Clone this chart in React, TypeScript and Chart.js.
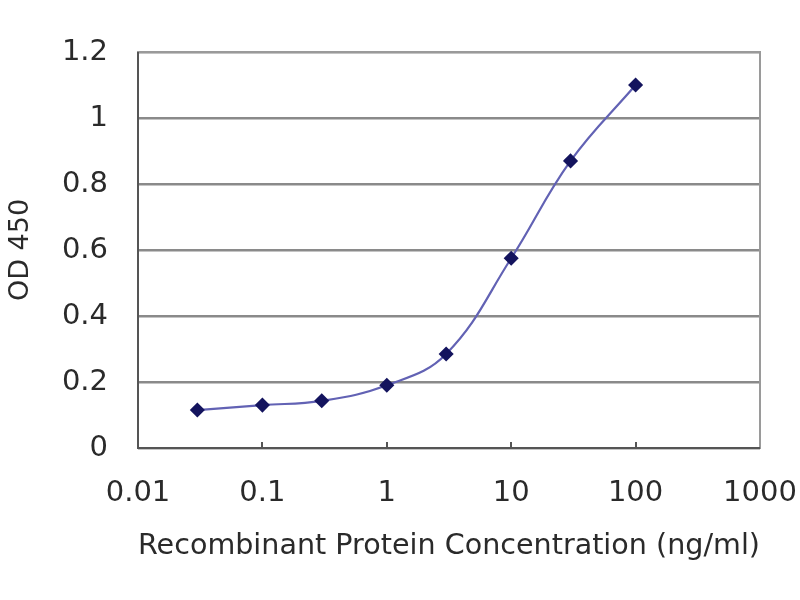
import { useEffect, useRef } from "react"
import { Chart, registerables, type ChartConfiguration } from "chart.js"

Chart.register(...registerables)

// concentration (ng/ml) and measured OD 450
const concentrations = [0.03, 0.1, 0.3, 1, 3, 10, 30, 100]
const odValues = [0.115, 0.13, 0.143, 0.19, 0.285, 0.575, 0.87, 1.1]
const xTickValues = [0.01, 0.1, 1, 10, 100, 1000]
const yTickValues = [0, 0.2, 0.4, 0.6, 0.8, 1, 1.2]

const FONT = "'DejaVu Sans', 'Liberation Sans', sans-serif"
const TEXT = "#2a2a2a"

// draws the grey frame round the plot area
const frame = {
  id: "frame",
  afterDraw(chart: Chart) {
    const { ctx, chartArea } = chart
    ctx.save()
    ctx.strokeStyle = "#9a9a9a"
    ctx.lineWidth = 2
    ctx.strokeRect(chartArea.left, chartArea.top, chartArea.right - chartArea.left, chartArea.bottom - chartArea.top)
    ctx.strokeStyle = "#555"
    ctx.beginPath()
    ctx.moveTo(chartArea.left, chartArea.top)
    ctx.lineTo(chartArea.left, chartArea.bottom)
    ctx.lineTo(chartArea.right, chartArea.bottom)
    ctx.stroke()
    ctx.restore()
  },
}

export default function App() {
  const canvasRef = useRef<HTMLCanvasElement>(null)

  useEffect(() => {
    if (!canvasRef.current) return
    const ctx = canvasRef.current.getContext("2d")
    if (!ctx) return

    const config: ChartConfiguration<"line"> = {
      type: "line",
      data: {
        datasets: [
          {
            data: concentrations.map((c, i) => ({ x: c, y: odValues[i] })),
            borderColor: "#6262b4",
            borderWidth: 2.2,
            tension: 0.4,
            pointStyle: "rectRot",
            pointRadius: 6,
            pointBackgroundColor: "#14145e",
            pointBorderColor: "#14145e",
          },
        ],
      },
      options: {
        responsive: false,
        animation: false,
        layout: { padding: { top: 52, right: 40, left: 0, bottom: 0 } },
        plugins: { legend: { display: false }, tooltip: { enabled: false } },
        scales: {
          x: {
            type: "logarithmic",
            min: 0.01,
            max: 1000,
            afterBuildTicks: (scale) => {
              scale.ticks = xTickValues.map((v) => ({ value: v }))
            },
            afterFit: (scale) => {
              scale.height = 152
              // let the end labels hang over the padding
              scale.paddingLeft = 0
              scale.paddingRight = 0
            },
            border: { display: false },
            grid: { drawOnChartArea: false, drawTicks: true, tickLength: -6, color: "#555", lineWidth: 2 },
            ticks: {
              autoSkip: false,
              maxRotation: 0,
              padding: 34,
              color: TEXT,
              font: { family: FONT, size: 29 },
              callback: (v) => String(v),
            },
            title: {
              display: true,
              text: "Recombinant Protein Concentration (ng/ml)",
              color: TEXT,
              font: { family: FONT, size: 29 },
              padding: { top: 0, bottom: 36 },
            },
          },
          y: {
            min: 0,
            max: 1.2,
            afterBuildTicks: (scale) => {
              scale.ticks = yTickValues.map((v) => ({ value: v }))
            },
            afterFit: (scale) => {
              scale.width = 138
            },
            border: { display: false },
            grid: { drawTicks: false, color: "#8a8a8a", lineWidth: 2.5 },
            ticks: {
              padding: 30,
              color: TEXT,
              font: { family: FONT, size: 29 },
              callback: (v) => String(Number(Number(v).toFixed(1))),
            },
            title: {
              display: true,
              text: "OD 450",
              color: TEXT,
              font: { family: FONT, size: 27 },
              padding: { top: 5, bottom: 0 },
            },
          },
        },
      },
      plugins: [frame],
    }

    const chart = new Chart(ctx, config)
    return () => chart.destroy()
  }, [])

  return (
    <div style={{ position: "absolute", left: 0, top: 0, width: 800, height: 600, background: "#fff" }}>
      <canvas ref={canvasRef} width={800} height={600} />
    </div>
  )
}
